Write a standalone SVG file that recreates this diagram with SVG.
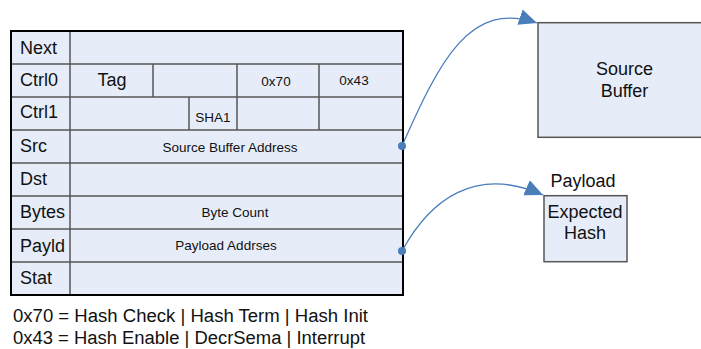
<svg xmlns="http://www.w3.org/2000/svg" width="701" height="349" viewBox="0 0 701 349">
<style>
.cell{fill:#e7edf8;stroke:none}
.in{stroke:#555;stroke-width:1.5;fill:none}
.lab{font-family:"Liberation Sans",Arial,sans-serif;font-size:18px;fill:#111}
.sm{font-family:"Liberation Sans",Arial,sans-serif;font-size:13.5px;fill:#111}
.box{fill:#e7edf8;stroke:#555;stroke-width:1.5}
.con{fill:none;stroke:#4a7ebb;stroke-width:1.3}
</style>
<defs>
<marker id="ah" viewBox="0 0 10 10" refX="10" refY="5" markerWidth="18" markerHeight="18" markerUnits="userSpaceOnUse" orient="auto">
<path d="M0,0.5 L10,5 L0,9.5 Z" fill="#4a7ebb"/>
</marker>
</defs>
<g id="descriptor">
<rect class="cell" x="11" y="31" width="392" height="264"/>
<path class="in" d="M70,31V295M11,64H403M11,97H403M11,130H403M11,163H403M11,196H403M11,229H403M11,262H403M153,64V97M237,64V130M319,64V130M189,97V130"/>
<rect x="11" y="31" width="392" height="264" fill="none" stroke="#000" stroke-width="2"/>
<text class="lab" x="20" y="53.5">Next</text>
<text class="lab" x="20" y="86">Ctrl0</text>
<text class="lab" x="20" y="118">Ctrl1</text>
<text class="lab" x="20" y="152">Src</text>
<text class="lab" x="20" y="185">Dst</text>
<text class="lab" x="20" y="218">Bytes</text>
<text class="lab" x="20" y="251.5">Payld</text>
<text class="lab" x="20" y="284">Stat</text>
<text class="lab" x="112" y="86" text-anchor="middle">Tag</text>
<text class="sm" x="276" y="86" text-anchor="middle">0x70</text>
<text class="sm" x="354" y="85" text-anchor="middle">0x43</text>
<text class="sm" x="213" y="121.5" text-anchor="middle">SHA1</text>
<text class="sm" x="230" y="152" text-anchor="middle">Source Buffer Address</text>
<text class="sm" x="235" y="217" text-anchor="middle">Byte Count</text>
<text class="sm" x="226" y="250" text-anchor="middle">Payload Addrses</text>
</g>
<g id="source-buffer">
<rect class="box" x="538" y="22.7" width="175" height="114.6"/>
<text class="lab" x="624.5" y="75" text-anchor="middle">Source</text>
<text class="lab" x="624.5" y="97" text-anchor="middle">Buffer</text>
</g>
<g id="payload">
<text class="lab" x="583" y="187" text-anchor="middle">Payload</text>
<rect class="box" x="544" y="195.7" width="83" height="66"/>
<text class="lab" x="585" y="217.5" text-anchor="middle">Expected</text>
<text class="lab" x="585" y="238.5" text-anchor="middle">Hash</text>
</g>
<g id="notes">
<text class="lab" x="13" y="322" font-size="16" textLength="355" lengthAdjust="spacingAndGlyphs">0x70 = Hash Check | Hash Term | Hash Init</text>
<text class="lab" x="13" y="344" font-size="16" textLength="352" lengthAdjust="spacingAndGlyphs">0x43 = Hash Enable | DecrSema | Interrupt</text>
</g>
<g id="connectors">
<path class="con" d="M402,146 C440,60 470,0 537,23" marker-end="url(#ah)"/>
<circle cx="402" cy="146" r="4" fill="#4a7ebb"/>
<path class="con" d="M402,251 C430,200 475,165 543,195" marker-end="url(#ah)"/>
<circle cx="402" cy="251" r="4" fill="#4a7ebb"/>
</g>
</svg>
